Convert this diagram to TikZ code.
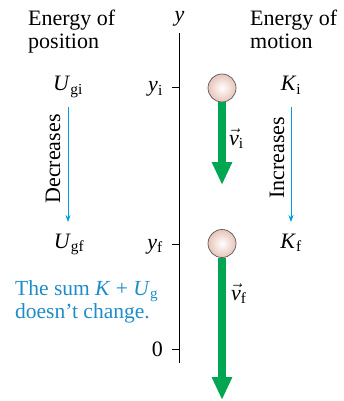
\documentclass[tikz,border=0pt]{standalone}
\usepackage{fontspec}
\setmainfont{Liberation Serif}
\usetikzlibrary{arrows.meta}
\definecolor{velgreen}{RGB}{0,166,81}
\definecolor{flowblue}{RGB}{0,155,230}
\definecolor{noteblue}{RGB}{30,140,200}
\definecolor{ballpink}{RGB}{232,196,186}
\newcommand{\lo}[1]{\textsubscript{\upshape #1}}
\newcommand{\vv}{$\vec{\mbox{\textit{v}}}$}
\tikzset{
  lbl/.style={font=\fontsize{22}{23}\selectfont,inner sep=0pt},
  ball/.style={circle,draw=gray!70!black,line width=0.7pt,minimum size=28pt,inner sep=0pt,
    inner color=white,outer color=ballpink},
  vel/.style={velgreen,line width=7.5pt,-{Triangle[width=19pt,length=23pt]}},
  change/.style={flowblue,line width=0.8pt,-{Stealth[length=7pt,width=5pt]}},
}
\begin{document}
\begin{tikzpicture}[x=1pt,y=-1pt]
\useasboundingbox (0,0) rectangle (344,401);
% axis
\coordinate (axtop) at (179.5,33);
\coordinate (axbot) at (179.5,363);
\draw[line width=0.8pt] (axtop) -- (axbot);
\node[lbl,font=\fontsize{22}{23}\selectfont\itshape] (ylab) at (179.5,19) {y};
\coordinate (ti) at (179.5,87);
\coordinate (tf) at (179.5,244);
\coordinate (tz) at (179.5,349);
\draw[line width=0.8pt] (ti) -- ++(-8,0);
\draw[line width=0.8pt] (tf) -- ++(-8,0);
\draw[line width=0.8pt] (tz) -- ++(-8,0);
\node[lbl,anchor=base east] (yi) at (163,92) {\textit{y}\lo{i}};
\node[lbl,anchor=base east] (yf) at (163,249) {\textit{y}\lo{f}};
\node[lbl,anchor=base east] (zero) at (163,356) {0};
% headings
\node[lbl,align=left,anchor=north west] (epos) at (28,9.5) {Energy of\\position};
\node[lbl,align=left,anchor=north west] (emot) at (250,9.5) {Energy of\\motion};
% energies
\node[lbl,anchor=base] (Ugi) at (68,91) {\textit{U}\lo{gi}};
\node[lbl,anchor=base] (Ugf) at (69,248) {\textit{U}\lo{gf}};
\node[lbl,anchor=base] (Ki) at (291,91) {\textit{K}\lo{i}};
\node[lbl,anchor=base] (Kf) at (291,248) {\textit{K}\lo{f}};
\coordinate (dtop) at (68,107);
\coordinate (dbot) at (68,222);
\coordinate (itop) at (291,107);
\coordinate (ibot) at (291,222);
\draw[change] (dtop) -- (dbot);
\draw[change] (itop) -- (ibot);
\node[lbl,rotate=90] (dec) at (53,159) {Decreases};
\node[lbl,rotate=90] (inc) at (277,158) {Increases};
% balls
\node[ball] (balli) at (222,88) {};
\node[ball] (ballf) at (222,243.5) {};
\coordinate (tipi) at (222,185);
\coordinate (tipf) at (222,400);
\draw[vel] (balli.south) -- (tipi);
\draw[vel] (ballf.south) -- (tipf);
\node[lbl,anchor=base west] (vi) at (229,145) {\vv\lo{i}};
\node[lbl,anchor=base west] (vf) at (231,300) {\vv\lo{f}};
% note
\node[lbl,align=left,anchor=north west,text=noteblue,font=\fontsize{21.5}{22.5}\selectfont]
  (note) at (15,280.5) {The sum \textit{K} + \textit{U}\lo{g}\\doesn’t change.};
\end{tikzpicture}
\end{document}
